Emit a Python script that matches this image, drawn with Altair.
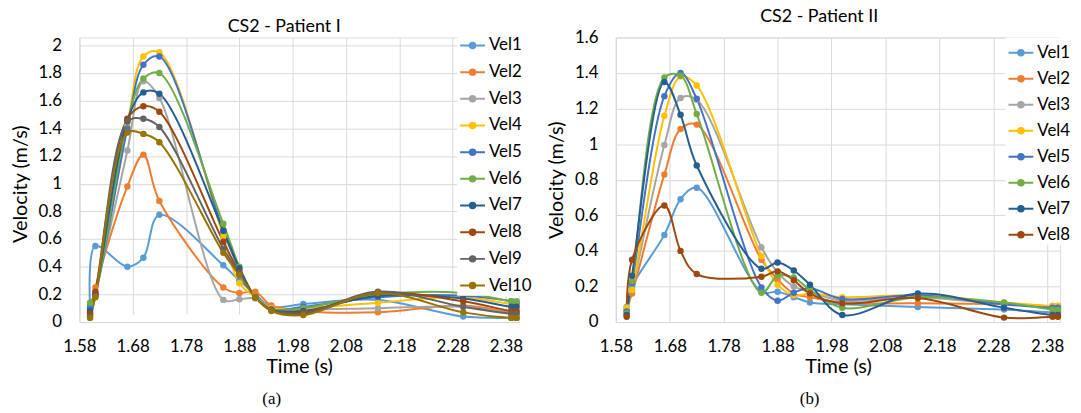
import altair as alt
import pandas as pd

# ---------------- data ----------------
times = [1.60, 1.61, 1.67, 1.70, 1.73, 1.85, 1.88, 1.91, 1.94, 2.00, 2.14, 2.30, 2.39, 2.40]

names_a = ["Vel1", "Vel2", "Vel3", "Vel4", "Vel5", "Vel6", "Vel7", "Vel8", "Vel9", "Vel10"]
a_vel1 = [0.12, 0.55, 0.40, 0.465, 0.775, 0.41, 0.30, 0.20, 0.11, 0.13, 0.16, 0.04, 0.03, 0.03]
a_vel2 = [0.07, 0.25, 0.98, 1.21, 0.875, 0.25, 0.21, 0.22, 0.12, 0.08, 0.07, 0.12, 0.07, 0.07]
a_vel3 = [0.05, 0.20, 1.24, 1.74, 1.62, 0.16, 0.165, 0.17, 0.10, 0.09, 0.10, 0.11, 0.06, 0.06]
a_vel4 = [0.05, 0.19, 1.42, 1.92, 1.95, 0.62, 0.28, 0.18, 0.10, 0.10, 0.14, 0.18, 0.13, 0.13]
a_vel5 = [0.10, 0.20, 1.40, 1.86, 1.92, 0.66, 0.38, 0.18, 0.09, 0.11, 0.18, 0.19, 0.15, 0.14]
a_vel6 = [0.14, 0.21, 1.45, 1.76, 1.80, 0.71, 0.40, 0.18, 0.09, 0.10, 0.20, 0.21, 0.15, 0.15]
a_vel7 = [0.08, 0.20, 1.46, 1.66, 1.65, 0.66, 0.39, 0.18, 0.09, 0.08, 0.19, 0.17, 0.11, 0.11]
a_vel8 = [0.06, 0.22, 1.47, 1.56, 1.52, 0.58, 0.36, 0.18, 0.09, 0.07, 0.21, 0.15, 0.08, 0.08]
a_vel9 = [0.04, 0.19, 1.45, 1.47, 1.41, 0.53, 0.35, 0.18, 0.09, 0.06, 0.22, 0.11, 0.06, 0.06]
a_vel10 = [0.03, 0.18, 1.37, 1.36, 1.30, 0.50, 0.34, 0.18, 0.08, 0.05, 0.21, 0.07, 0.03, 0.03]

names_b = ["Vel1", "Vel2", "Vel3", "Vel4", "Vel5", "Vel6", "Vel7", "Vel8"]
b_vel1 = [0.085, 0.20, 0.49, 0.69, 0.755, 0.17, 0.17, 0.14, 0.11, 0.10, 0.085, 0.07, 0.055, 0.055]
b_vel2 = [0.07, 0.16, 0.83, 1.085, 1.11, 0.35, 0.24, 0.16, 0.14, 0.11, 0.105, 0.10, 0.09, 0.09]
b_vel3 = [0.07, 0.18, 0.995, 1.26, 1.25, 0.42, 0.28, 0.20, 0.17, 0.12, 0.14, 0.10, 0.09, 0.09]
b_vel4 = [0.08, 0.18, 1.16, 1.38, 1.33, 0.37, 0.21, 0.15, 0.16, 0.14, 0.15, 0.11, 0.09, 0.09]
b_vel5 = [0.06, 0.22, 1.27, 1.40, 1.255, 0.195, 0.12, 0.165, 0.19, 0.13, 0.15, 0.10, 0.08, 0.08]
b_vel6 = [0.05, 0.23, 1.375, 1.385, 1.17, 0.165, 0.26, 0.25, 0.18, 0.08, 0.14, 0.11, 0.07, 0.07]
b_vel7 = [0.04, 0.26, 1.35, 1.165, 0.88, 0.30, 0.335, 0.29, 0.21, 0.04, 0.16, 0.08, 0.04, 0.04]
b_vel8 = [0.03, 0.35, 0.655, 0.40, 0.27, 0.255, 0.285, 0.235, 0.16, 0.105, 0.135, 0.025, 0.03, 0.03]

x_ticks = [1.58, 1.68, 1.78, 1.88, 1.98, 2.08, 2.18, 2.28, 2.38]
y_ticks_a = [0, 0.2, 0.4, 0.6, 0.8, 1.0, 1.2, 1.4, 1.6, 1.8, 2.0]
y_ticks_b = [0, 0.2, 0.4, 0.6, 0.8, 1.0, 1.2, 1.4, 1.6]

palette = ["#5B9BD5", "#ED7D31", "#A5A5A5", "#FFC000", "#4472C4",
           "#70AD47", "#255E91", "#9E480E", "#636363", "#997300"]

FONT = "Lato"
GRID = "#D9D9D9"
SYMBOL = ("M-1,0L1,0"
          "M0.22,0A0.22,0.22,0,1,1,-0.22,0A0.22,0.22,0,1,1,0.22,0"
          "M0.12,0A0.12,0.12,0,1,1,-0.12,0A0.12,0.12,0,1,1,0.12,0"
          "M0.04,0A0.04,0.04,0,1,1,-0.04,0A0.04,0.04,0,1,1,0.04,0")


def long_df(names, cols):
    rows = []
    for i, (n, vals) in enumerate(zip(names, cols)):
        for t, v in zip(times, vals):
            rows.append({"t": t, "v": v, "s": n, "o": i})
    return pd.DataFrame(rows)


def panel(names, cols, ymax, yticks, yrange, title, tdx, toffset, lx, ly, rowpad, lfs, width, height):
    df = long_df(names, cols)
    x = alt.X("t:Q",
              scale=alt.Scale(domain=[1.58, 2.404], nice=False, zero=False),
              axis=alt.Axis(values=x_ticks, format=".2f", title="Time (s)",
                            grid=True, gridColor=GRID, domainColor=GRID, ticks=False,
                            labelPadding=17, labelFontSize=17, labelFont=FONT, labelColor="black",
                            titleFont=FONT, titleFontSize=20, titleFontWeight="normal",
                            titleColor="black", titlePadding=2, labelFlush=False))
    yscale = alt.Scale(domain=[0, ymax], nice=False)
    if yrange is not None:
        yscale = alt.Scale(domain=[0, ymax], nice=False, range=yrange)
    y = alt.Y("v:Q", scale=yscale,
              axis=alt.Axis(values=yticks, format="~g", title="Velocity (m/s)",
                            grid=True, gridColor=GRID, domainColor=GRID, ticks=False,
                            labelPadding=18, labelFontSize=17, labelFont=FONT, labelColor="black",
                            titleFont=FONT, titleFontSize=20, titleFontWeight="normal",
                            titleColor="black", titlePadding=8))
    cscale = alt.Scale(domain=names, range=palette[:len(names)])
    line = alt.Chart(df).mark_line(interpolate="catmull-rom", strokeWidth=2).encode(
        x=x, y=y,
        color=alt.Color("s:N", scale=cscale, sort=names,
                        legend=alt.Legend(title=None, orient="none", legendX=lx, legendY=ly,
                                          symbolType=SYMBOL, symbolSize=625, symbolStrokeWidth=2,
                                          labelFont=FONT, labelFontSize=lfs, labelColor="black",
                                          labelOffset=3, rowPadding=rowpad, padding=2,
                                          fillColor="white", strokeColor=None)),
        order=alt.Order("o:Q"),
    )
    pts = alt.Chart(df).mark_circle(size=42, opacity=1).encode(
        x=x, y=y,
        color=alt.Color("s:N", scale=cscale, legend=None),
        order=alt.Order("o:Q"),
    )
    return alt.layer(line, pts).properties(
        width=width, height=height,
        title=alt.TitleParams(title, font=FONT, fontSize=18, fontWeight="normal", color="black",
                              anchor="middle", dx=tdx, offset=toffset, frame="group"),
    )


left = panel(names_a, [a_vel1, a_vel2, a_vel3, a_vel4, a_vel5, a_vel6, a_vel7, a_vel8, a_vel9, a_vel10],
             2.0, y_ticks_a, [287, 8], "CS2 - Patient I", -15, 0, 381, -7.4, 4.9, 17, 443, 287)
right = panel(names_b, [b_vel1, b_vel2, b_vel3, b_vel4, b_vel5, b_vel6, b_vel7, b_vel8],
              1.6, y_ticks_b, None, "CS2 - Patient II", -19, 3, 393, 0, 4.2, 17, 448, 287)

cap = dict(orient="bottom", font="Liberation Serif", fontSize=17, fontWeight="normal",
           color="black", anchor="middle", offset=14)
left_c = alt.vconcat(left, title=alt.TitleParams("(a)", dx=0, **cap))
right_c = alt.vconcat(right, title=alt.TitleParams("(b)", dx=0, **cap))

chart = alt.hconcat(left_c, right_c, spacing=12).resolve_scale(color="independent").properties(
    padding={"left": 1, "top": -3, "right": 0, "bottom": 0}
).configure_view(stroke=None).configure(background="white")

chart.save("out.html", embed_options={"renderer": "svg", "actions": False})
